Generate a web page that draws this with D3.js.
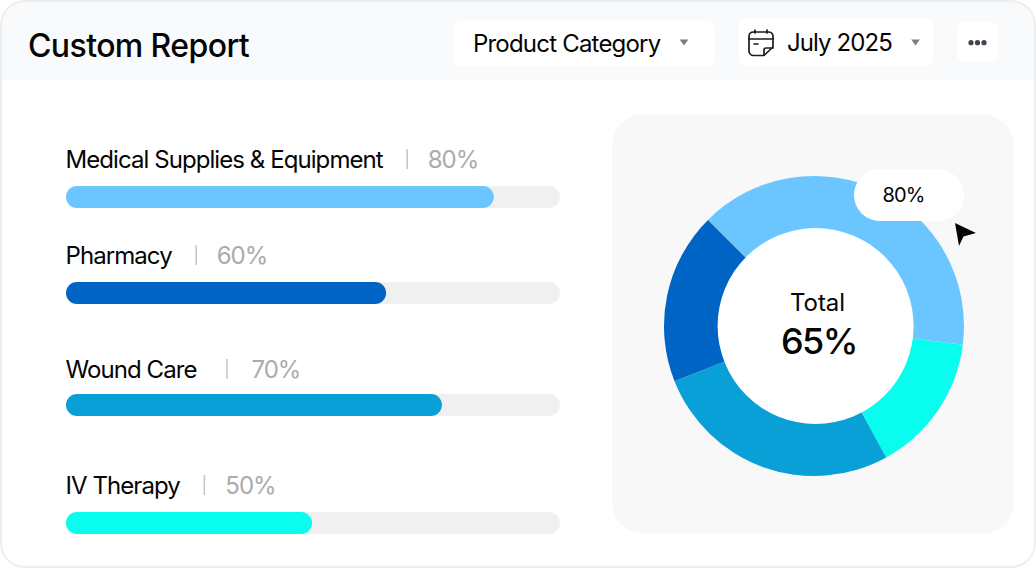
<!DOCTYPE html>
<html>
<head>
<meta charset="utf-8">
<script src="https://cdn.jsdelivr.net/npm/d3@7"></script>
<style>
  html, body { margin: 0; padding: 0; background: #fff; overflow: hidden; }
  svg { display: block; font-family: Inter, "Noto Sans", sans-serif; }
</style>
</head>
<body>
<svg width="1036" height="568"></svg>
<script>
// data
const categories = ["Medical Supplies & Equipment", "Pharmacy", "Wound Care", "IV Therapy"];
const percentLabels = ["80%", "60%", "70%", "50%"];
const barValues = [86.6, 64.8, 76.1, 49.8];   // drawn bar length, % of the track
const colors = ["#6bc6ff", "#0064c4", "#099fd7", "#08fdee"];

// donut, clockwise from the top left
const sliceNames = ["Medical Supplies & Equipment", "IV Therapy", "Wound Care", "Pharmacy"];
const sliceValues = [39.5, 15, 27, 18.5];
const sliceColors = ["#6bc6ff", "#08fdee", "#099fd7", "#0064c4"];

const title = "Custom Report";
const filterLabel = "Product Category";
const dateLabel = "July 2025";
const totalLabel = "Total";
const totalValue = "65%";
const hoverLabel = "80%";

const svg = d3.select("svg");
const ink = "#050505";

// card + header
svg.append("rect")
    .attr("x", 1).attr("y", 1).attr("width", 1034).attr("height", 566)
    .attr("rx", 24)
    .attr("fill", "#fff");

svg.append("path")
    .attr("d", "M1 80V25A24 24 0 0 1 25 1H1011A24 24 0 0 1 1035 25V80Z")
    .attr("fill", "#f9fafb");

svg.append("rect")
    .attr("x", 1).attr("y", 1).attr("width", 1034).attr("height", 566)
    .attr("rx", 24)
    .attr("fill", "none")
    .attr("stroke", "#eceef0")
    .attr("stroke-width", 2);

svg.append("text")
    .attr("x", 28).attr("y", 57)
    .attr("font-size", 32).attr("font-weight", 500).attr("fill", ink)
    .attr("letter-spacing", -0.6)
    .text(title);

// header controls
function chip(x, y, w, h) {
    svg.append("rect")
        .attr("x", x).attr("y", y).attr("width", w).attr("height", h)
        .attr("rx", 8).attr("fill", "#fff");
}
function caret(x, y) {
    svg.append("path")
        .attr("d", `M${x - 4.3} ${y - 3}H${x + 4.3}L${x} ${y + 3}Z`)
        .attr("fill", "#7d7d7d");
}

chip(454, 20, 261, 46);
svg.append("text")
    .attr("x", 473).attr("y", 52)
    .attr("font-size", 24).attr("fill", ink)
    .attr("letter-spacing", -0.8)
    .text(filterLabel);
caret(684, 42.500);

chip(739, 18, 194, 49);
svg.append("text")
    .attr("x", 787).attr("y", 51)
    .attr("font-size", 24).attr("fill", ink)
    .attr("letter-spacing", -0.9)
    .text(dateLabel);
caret(915.500, 42.500);

// calendar icon
const cal = svg.append("g")
    .attr("fill", "none").attr("stroke", "#1c1c1c").attr("stroke-width", 1.7)
    .attr("stroke-linecap", "round").attr("stroke-linejoin", "round");
cal.append("path").attr("d", "M749 41V36A4.5 4.5 0 0 1 753.500 32H769A4.500 4.500 0 0 1 773 36V47L764 55.500H753.500A4.500 4.500 0 0 1 749 51Z");
cal.append("path").attr("d", "M749 39H773M755 30V33M767 30V33M754 44H758M764 55V50A2 2 0 0 1 766 48H773");

chip(957, 22, 41, 41);
svg.append("g").selectAll("circle")
    .data([-6.5, 0, 6.5])
    .join("circle")
    .attr("cx", d => 977.5 + d).attr("cy", 42.700).attr("r", 2.600)
    .attr("fill", "#3e4450");

// progress bars
const x = d3.scaleLinear().domain([0, 100]).range([66, 560]);
const rowY = d3.scaleOrdinal().domain(categories).range([186, 282, 394, 512]);
const labelBase = d3.scaleOrdinal().domain(categories).range([-18, -18, -16, -18]);
const sepGap = d3.scaleOrdinal().domain(categories).range([24, 24, 30, 24]);
const valueGap = d3.scaleOrdinal().domain(categories).range([20.5, 20.5, 24.5, 21]);
const barH = 22;

const rows = svg.append("g").selectAll("g")
    .data(categories)
    .join("g")
    .attr("transform", d => `translate(0,${rowY(d)})`);

rows.append("rect")
    .attr("x", x(0)).attr("width", x(100) - x(0)).attr("height", barH)
    .attr("rx", 11).attr("fill", "#f0f0f0");

rows.append("rect")
    .attr("x", x(0)).attr("width", (d, i) => x(barValues[i]) - x(0)).attr("height", barH)
    .attr("rx", 11).attr("fill", (d, i) => colors[i]);

rows.each(function (d, i) {
    const row = d3.select(this);
    const label = row.append("text")
        .attr("x", x(0) - 0.5).attr("y", labelBase(d))
        .attr("font-size", 24).attr("fill", ink)
        .attr("letter-spacing", -0.93)
        .text(d);
    const end = x(0) + label.node().getComputedTextLength();
    const sep = end + sepGap(d);
    row.append("line")
        .attr("x1", sep).attr("x2", sep)
        .attr("y1", labelBase(d) - 19).attr("y2", labelBase(d) + 1)
        .attr("stroke", "#c4c4c4").attr("stroke-width", 1.5);
    row.append("text")
        .attr("x", sep + valueGap(d)).attr("y", labelBase(d))
        .attr("font-size", 24).attr("fill", "#ababab")
        .attr("letter-spacing", -1)
        .text(percentLabels[i]);
});

// donut panel
svg.append("rect")
    .attr("x", 612).attr("y", 114).attr("width", 402).attr("height", 420)
    .attr("rx", 32).attr("fill", "#f8f8f8");

const donut = svg.append("g").attr("transform", "translate(814,326)");

const pie = d3.pie()
    .sort(null)
    .startAngle(-Math.PI / 4)
    .endAngle(2 * Math.PI - Math.PI / 4);

const arc = d3.arc().innerRadius(90).outerRadius(150);

donut.selectAll("path")
    .data(pie(sliceValues))
    .join("path")
    .attr("d", arc)
    .attr("fill", (d, i) => sliceColors[i]);

// the hole sits a little right of the ring's centre in the reference
donut.append("circle").attr("cx", 1.600).attr("r", 98).attr("fill", "#fff");

donut.append("text")
    .attr("x", 3.500).attr("y", -15)
    .attr("text-anchor", "middle")
    .attr("font-size", 24).attr("fill", ink)
    .text(totalLabel);

donut.append("text")
    .attr("x", 5).attr("y", 28)
    .attr("text-anchor", "middle")
    .attr("font-size", 36).attr("font-weight", 500).attr("fill", ink)
    .attr("letter-spacing", -1.5)
    .text(totalValue);

// hover tooltip + cursor
svg.append("rect")
    .attr("x", 854).attr("y", 169).attr("width", 110).attr("height", 52)
    .attr("rx", 26).attr("fill", "#fff");

svg.append("text")
    .attr("x", 903.500).attr("y", 202)
    .attr("text-anchor", "middle")
    .attr("font-size", 20).attr("fill", ink)
    .attr("letter-spacing", -0.8)
    .text(hoverLabel);

svg.append("path")
    .attr("d", "M955 223L976 233L963.500 236.500L959 246Z")
    .attr("fill", "#050505")
    .attr("stroke", "#fff").attr("stroke-width", 1).attr("paint-order", "stroke");
</script>
</body>
</html>
